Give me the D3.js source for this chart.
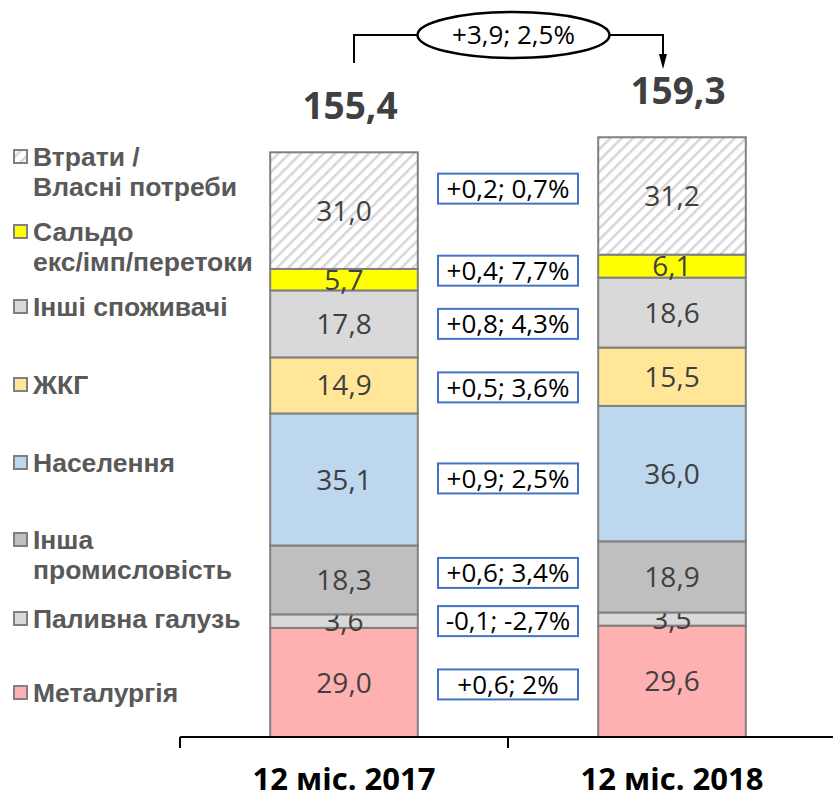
<!DOCTYPE html>
<html>
<head>
<meta charset="utf-8">
<script src="https://cdn.jsdelivr.net/npm/d3@7"></script>
<style>
  body { margin: 0; background: #fff; }
  .val { font-family: "Open Sans", sans-serif; font-size: 28px; fill: #404040; }
  .delta { font-family: "Open Sans", sans-serif; font-size: 26px; fill: #000; }
  .total { font-family: "Open Sans", sans-serif; font-size: 37px; font-weight: bold; fill: #404040; }
  .legend { font-family: "Liberation Sans", Arial, sans-serif; font-size: 26.5px; font-weight: bold; fill: #595959; }
  .xlab { font-family: "Open Sans", sans-serif; font-size: 31px; font-weight: bold; fill: #000; }
</style>
</head>
<body>
<div id="chart"></div>
<script>
// data (bottom of the stack first)
const years = ["12 міс. 2017", "12 міс. 2018"];
const sectors = ["Металургія", "Паливна галузь", "Інша промисловість", "Населення", "ЖКГ", "Інші споживачі", "Сальдо екс/імп/перетоки", "Втрати / Власні потреби"];
const values2017 = [29.0, 3.6, 18.3, 35.1, 14.9, 17.8, 5.7, 31.0];
const values2018 = [29.6, 3.5, 18.9, 36.0, 15.5, 18.6, 6.1, 31.2];
const totals = ["155,4", "159,3"];
const deltaLabels = ["+0,6; 2%", "-0,1; -2,7%", "+0,6; 3,4%", "+0,9; 2,5%", "+0,5; 3,6%", "+0,8; 4,3%", "+0,4; 7,7%", "+0,2; 0,7%"];
const totalChange = "+3,9; 2,5%";
const legendLines = [["Металургія"], ["Паливна галузь"], ["Інша", "промисловість"], ["Населення"], ["ЖКГ"], ["Інші споживачі"], ["Сальдо", "екс/імп/перетоки"], ["Втрати /", "Власні потреби"]];

// layout (not data)
const colors = ["#FFB0B0", "#D9D9D9", "#BFBFBF", "#BDD7EE", "#FFE699", "#D9D9D9", "#FFFF00", "url(#hatch)"];
const legendY = [702, 628, 549, 472, 394, 316, 241, 166];   // first-line baselines
const deltaNudge = [2, 0, -7, -1, 2, 0, -9, -22];

const width = 833, height = 798;
const svg = d3.select("#chart").append("svg").attr("width", width).attr("height", height);

const defs = svg.append("defs");
const pat = defs.append("pattern").attr("id", "hatch").attr("patternUnits", "userSpaceOnUse")
  .attr("width", 8).attr("height", 8).attr("patternTransform", "rotate(45)");
pat.append("rect").attr("width", 8).attr("height", 8).attr("fill", "#fff");
pat.append("rect").attr("x", 0).attr("width", 2.5).attr("height", 8).attr("fill", "#D6D6D6");

const x = d3.scaleBand().domain(years).range([180, 836]).paddingInner(0.55).paddingOuter(0.275);
const y = d3.scaleLinear().domain([0, 160]).range([737, 135]);

const rows = years.map((yr, i) => {
  const r = {year: yr};
  const vals = i === 0 ? values2017 : values2018;
  sectors.forEach((s, j) => r[s] = vals[j]);
  return r;
});
const stack = d3.stack().keys(sectors)(rows);

const fmt = d3.formatLocale({decimal: ",", thousands: " ", grouping: [3], currency: ["", ""]}).format(".1f");

const layers = svg.selectAll(".layer").data(stack).enter().append("g").attr("class", "layer")
  .attr("fill", (d, i) => colors[i]);
layers.selectAll("rect").data(d => d).enter().append("rect")
  .attr("x", d => x(d.data.year))
  .attr("width", x.bandwidth())
  .attr("y", d => y(d[1]))
  .attr("height", d => y(d[0]) - y(d[1]))
  .attr("stroke", "#808080").attr("stroke-width", 2);
layers.selectAll("text").data(d => d).enter().append("text")
  .attr("class", "val")
  .attr("x", d => x(d.data.year) + x.bandwidth() / 2)
  .attr("y", d => (y(d[0]) + y(d[1])) / 2)
  .attr("dy", "0.36em")
  .attr("text-anchor", "middle")
  .text(d => fmt(d[1] - d[0]));

// x axis
const axisY = y(0);
svg.append("line").attr("x1", 180).attr("x2", width).attr("y1", axisY).attr("y2", axisY)
  .attr("stroke", "#000").attr("stroke-width", 2);
[180, x(years[0]) + x.bandwidth() + (x.step() - x.bandwidth()) / 2].forEach(t => {
  svg.append("line").attr("x1", t).attr("x2", t).attr("y1", axisY).attr("y2", axisY + 11)
    .attr("stroke", "#000").attr("stroke-width", 2);
});
svg.selectAll(".xlab").data(years).enter().append("text").attr("class", "xlab")
  .attr("x", d => x(d) + x.bandwidth() / 2).attr("y", 790)
  .attr("text-anchor", "middle").text(d => d);

// totals
svg.selectAll(".total").data(years).enter().append("text").attr("class", "total")
  .attr("x", d => x(d) + x.bandwidth() / 2 + 6)
  .attr("y", (d, i) => y(d3.sum(i === 0 ? values2017 : values2018)) - 33)
  .attr("text-anchor", "middle").text((d, i) => totals[i]);

// delta boxes
const midX = (x(years[0]) + x.bandwidth() + x(years[1])) / 2;
const first = stack.map(s => s[0]);
first.forEach((d, i) => {
  const cy = (y(d[0]) + y(d[1])) / 2 + deltaNudge[i];
  const g = svg.append("g");
  const t = g.append("text").attr("class", "delta").attr("x", midX).attr("y", cy)
    .attr("dy", "0.36em").attr("text-anchor", "middle").text(deltaLabels[i]);
  const bw = Math.max(t.node().getBBox().width + 14, 140);
  g.insert("rect", "text").attr("x", midX - bw / 2).attr("y", cy - 15).attr("width", bw).attr("height", 30)
    .attr("fill", "#fff").attr("stroke", "#4472C4").attr("stroke-width", 2);
});

// total change annotation
const lx = x(years[0]) + x.bandwidth() / 2 + 10;
const rx = x(years[1]) + x.bandwidth() / 2 - 9;
const ex = (lx + rx) / 2 + 5, ey = 35;
svg.append("path").attr("d", `M${lx},63V${ey}H${rx}V58`).attr("fill", "none")
  .attr("stroke", "#000").attr("stroke-width", 2);
svg.append("path").attr("d", `M${rx - 4},54L${rx},69L${rx + 4},54Z`).attr("fill", "#000");
svg.append("ellipse").attr("cx", ex).attr("cy", ey).attr("rx", 96).attr("ry", 23)
  .attr("fill", "#fff").attr("stroke", "#000").attr("stroke-width", 2.5);
svg.append("text").attr("class", "delta").attr("x", ex).attr("y", ey).attr("dy", "0.36em")
  .attr("text-anchor", "middle").text(totalChange);

// legend
const leg = svg.selectAll(".leg").data(legendLines).enter().append("g").attr("class", "leg");
leg.append("rect").attr("x", 14).attr("y", (d, i) => legendY[i] - 16).attr("width", 13).attr("height", 13)
  .attr("fill", (d, i) => colors[i]).attr("stroke", "#808080").attr("stroke-width", 2);
leg.append("text").attr("class", "legend").attr("x", 33).attr("y", (d, i) => legendY[i])
  .selectAll("tspan").data(d => d).enter().append("tspan")
  .attr("x", 33).attr("dy", (d, j) => j === 0 ? 0 : 30).text(d => d);
</script>
</body>
</html>
